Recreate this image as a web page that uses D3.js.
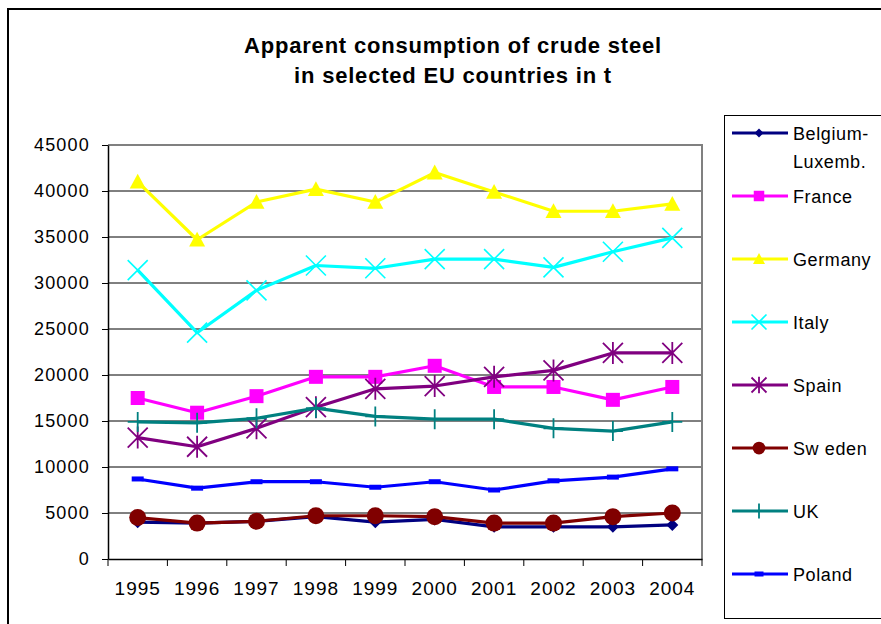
<!DOCTYPE html>
<html>
<head>
<meta charset="utf-8">
<script src="https://cdn.jsdelivr.net/npm/d3@7"></script>
<style>
  body { margin: 0; background: #fff; }
  svg { display: block; font-family: "Liberation Sans", Arial, sans-serif; }
</style>
</head>
<body>
<svg id="chart" width="881" height="624"></svg>
<script>
const years = ["1995", "1996", "1997", "1998", "1999", "2000", "2001", "2002", "2003", "2004"];
const yTicks = [0, 5000, 10000, 15000, 20000, 25000, 30000, 35000, 40000, 45000];

const belgium = [4000, 3900, 4100, 4600, 4000, 4300, 3500, 3500, 3500, 3700];
const france = [17500, 15900, 17700, 19800, 19800, 21000, 18700, 18700, 17300, 18700];
const germany = [41000, 34700, 38800, 40200, 38800, 42000, 39900, 37800, 37800, 38600];
const italy = [31400, 24600, 29200, 31900, 31600, 32600, 32600, 31700, 33400, 34900];
const spain = [13200, 12200, 14200, 16500, 18500, 18800, 19800, 20500, 22400, 22400];
const sweden = [4500, 3900, 4100, 4700, 4700, 4600, 3900, 3900, 4600, 5000];
const uk = [14900, 14800, 15300, 16400, 15500, 15200, 15200, 14200, 13900, 14900];
const poland = [8700, 7700, 8400, 8400, 7800, 8400, 7500, 8500, 8900, 9800];

const seriesNames = ["Belgium-\nLuxemb.", "France", "Germany", "Italy", "Spain", "Sw eden", "UK", "Poland"];
const seriesValues = [belgium, france, germany, italy, spain, sweden, uk, poland];
const seriesColors = ["#000080", "#ff00ff", "#ffff00", "#00ffff", "#800080", "#800000", "#008080", "#0000ff"];
const seriesMarkers = ["diamond", "square", "triangle", "x", "asterisk", "circle", "plus", "dash"];

const svg = d3.select("#chart");
const margin = { top: 145, right: 179, bottom: 65, left: 108 };
const W = 881, H = 624;

// outer chart frame (runs off the picture on right/bottom)
svg.append("rect")
  .attr("x", 8).attr("y", 9)
  .attr("width", 1000).attr("height", 1000)
  .attr("fill", "none").attr("stroke", "#000").attr("stroke-width", 2);

// title
const title = svg.append("text")
  .attr("text-anchor", "middle")
  .attr("font-size", 22)
  .attr("font-weight", "bold")
  .attr("letter-spacing", 0.8)
  .attr("fill", "#000");
title.append("tspan").attr("x", 453).attr("y", 53).text("Apparent consumption of crude steel");
title.append("tspan").attr("x", 453).attr("y", 83).text("in selected EU countries in t");

const x = d3.scaleBand()
  .domain(years)
  .range([margin.left, W - margin.right]);

const y = d3.scaleLinear()
  .domain([0, 45000])
  .range([H - margin.bottom, margin.top]);

const cx = d => x(d) + x.bandwidth() / 2;

// gridlines
svg.append("g")
  .selectAll("line")
  .data(yTicks.filter(t => t > 0 && t < 45000))
  .join("line")
  .attr("x1", margin.left).attr("x2", W - margin.right)
  .attr("y1", d => y(d)).attr("y2", d => y(d))
  .attr("stroke", "#000").attr("stroke-width", 1);

// plot area border (top/right, gray)
svg.append("path")
  .attr("d", `M${margin.left},${y(45000)}H${W - margin.right}V${y(0)}`)
  .attr("fill", "none").attr("stroke", "#808080").attr("stroke-width", 2);

// y axis
const yAxis = svg.append("g")
  .attr("transform", `translate(${margin.left},0)`)
  .call(d3.axisLeft(y).tickValues(yTicks).tickFormat(d3.format("d"))
    .tickSize(6).tickPadding(12).tickSizeOuter(0));
yAxis.select(".domain").attr("stroke", "#000").attr("stroke-width", 1.5);
yAxis.selectAll("text").attr("font-size", 18).attr("letter-spacing", 1.2).attr("fill", "#000")
  .attr("font-family", "'Liberation Sans', Arial, sans-serif");

// x axis
const xAxis = svg.append("g")
  .attr("transform", `translate(0,${y(0)})`)
  .call(d3.axisBottom(x).tickSize(0).tickPadding(23).tickSizeOuter(0));
xAxis.select(".domain").attr("stroke", "#000").attr("stroke-width", 1.5);
xAxis.selectAll("text").attr("font-size", 19).attr("letter-spacing", 1).attr("fill", "#000")
  .attr("font-family", "'Liberation Sans', Arial, sans-serif");
xAxis.selectAll("line.bound")
  .data(years.concat(["end"]))
  .join("line")
  .attr("class", "bound")
  .attr("x1", (d, i) => i < years.length ? x(d) : x.range()[1])
  .attr("x2", (d, i) => i < years.length ? x(d) : x.range()[1])
  .attr("y1", 0).attr("y2", 7)
  .attr("stroke", "#000").attr("stroke-width", 1);

function drawMarker(g, type, color, k) {
  switch (type) {
    case "diamond": {
      const s = 6 * k;
      g.append("path").attr("d", `M0,${-s}L${s},0L0,${s}L${-s},0Z`).attr("fill", color);
      break;
    }
    case "square": {
      const s = 7 * k;
      g.append("rect").attr("x", -s).attr("y", -s).attr("width", 2 * s).attr("height", 2 * s).attr("fill", color);
      break;
    }
    case "triangle": {
      const s = 8 * k;
      g.append("path").attr("d", `M0,${-s}L${s},${s * 0.85}L${-s},${s * 0.85}Z`).attr("fill", color);
      break;
    }
    case "x": {
      const s = 10 * k;
      g.append("path").attr("d", `M${-s},${-s}L${s},${s}M${-s},${s}L${s},${-s}`)
        .attr("stroke", color).attr("stroke-width", 1.6).attr("fill", "none");
      break;
    }
    case "asterisk": {
      const s = 10 * k;
      g.append("path").attr("d", `M${-s},${-s}L${s},${s}M${-s},${s}L${s},${-s}M0,${-s * 1.1}V${s * 1.1}`)
        .attr("stroke", color).attr("stroke-width", 1.8).attr("fill", "none");
      break;
    }
    case "circle": {
      g.append("circle").attr("r", 8.5 * k).attr("fill", color);
      break;
    }
    case "plus": {
      const s = 10 * k;
      g.append("path").attr("d", `M0,${-s}V${s}M${-s},0H${s}`)
        .attr("stroke", color).attr("stroke-width", 1.8).attr("fill", "none");
      break;
    }
    case "dash": {
      const s = 6 * k;
      g.append("rect").attr("x", -s).attr("y", -2.5).attr("width", 2 * s).attr("height", 5).attr("fill", color);
      break;
    }
  }
}

const line = d3.line().x((d, i) => cx(years[i])).y(d => y(d));

seriesValues.forEach((vals, si) => {
  const g = svg.append("g");
  g.append("path")
    .attr("d", line(vals))
    .attr("fill", "none")
    .attr("stroke", seriesColors[si])
    .attr("stroke-width", 3.2)
    .attr("stroke-linejoin", "round");
  g.selectAll("g.m")
    .data(vals)
    .join("g")
    .attr("class", "m")
    .attr("transform", (d, i) => `translate(${cx(years[i])},${y(d)})`)
    .each(function () { drawMarker(d3.select(this), seriesMarkers[si], seriesColors[si], 1); });
});

// legend
const legend = svg.append("g");
legend.append("rect")
  .attr("x", 724.5).attr("y", 115.5)
  .attr("width", 300).attr("height", 503)
  .attr("fill", "#fff").attr("stroke", "#000").attr("stroke-width", 1);

const ly = d3.scaleLinear().domain([0, 7]).range([133, 574]);

seriesNames.forEach((name, i) => {
  const g = legend.append("g").attr("transform", `translate(0,${ly(i)})`);
  g.append("line")
    .attr("x1", 732).attr("x2", 788)
    .attr("stroke", seriesColors[i]).attr("stroke-width", 3.2);
  const m = g.append("g").attr("transform", "translate(759,0)");
  drawMarker(m, seriesMarkers[i], seriesColors[i], 0.75);
  const t = g.append("text")
    .attr("font-size", 18)
    .attr("letter-spacing", 0.6)
    .attr("fill", "#000");
  name.split("\n").forEach((part, j) => {
    t.append("tspan").attr("x", 793).attr("y", 7 + j * 28).text(part);
  });
});
</script>
</body>
</html>
